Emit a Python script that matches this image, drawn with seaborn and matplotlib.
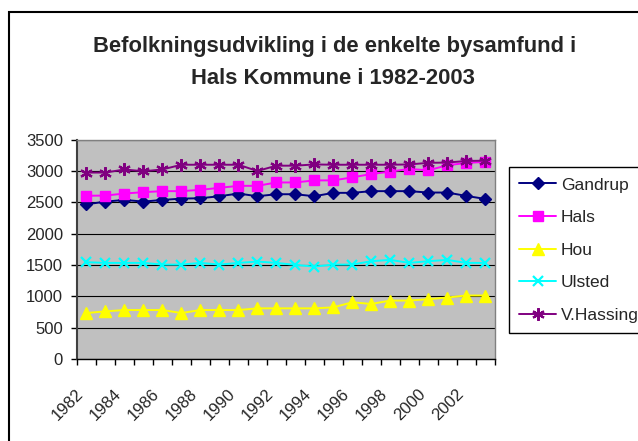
import matplotlib
matplotlib.use("Agg")
import matplotlib.pyplot as plt
import matplotlib.patches as mpatches
import matplotlib.ticker as mticker
import seaborn as sns
import pandas as pd

years = list(range(1982, 2004))
gandrup = [2468, 2511, 2538, 2511, 2538, 2559, 2565, 2597, 2640, 2597, 2629,
           2629, 2597, 2651, 2651, 2678, 2678, 2678, 2656, 2656, 2602, 2554]
hals = [2604, 2608, 2640, 2662, 2678, 2678, 2699, 2731, 2763, 2763, 2817,
        2817, 2850, 2850, 2898, 2952, 2990, 3033, 3011, 3091, 3129, 3145]
hou = [731, 758, 779, 779, 779, 731, 779, 779, 779, 806, 806,
       806, 806, 822, 903, 876, 930, 930, 952, 979, 1011, 1011]
ulsted = [1543, 1532, 1532, 1532, 1505, 1505, 1532, 1505, 1532, 1553, 1532,
          1500, 1473, 1505, 1505, 1559, 1580, 1532, 1559, 1580, 1532, 1532]
vhassing = [2975, 2975, 3025, 2995, 3025, 3100, 3100, 3100, 3100, 3000, 3085,
            3085, 3105, 3100, 3100, 3100, 3100, 3105, 3130, 3135, 3160, 3165]

series_names = ["Gandrup", "Hals", "Hou", "Ulsted", "V.Hassing"]
series_values = [gandrup, hals, hou, ulsted, vhassing]
colors = ["#000080", "#FF00FF", "#FFFF00", "#00FFFF", "#800080"]
markers = ["D", "s", "^", "x", (6, 2, 0)]
msizes = [6.5, 6.5, 8, 7, 9]
title_lines = ["Befolkningsudvikling i de enkelte bysamfund i",
               "Hals Kommune i 1982-2003"]
yticks = list(range(0, 3501, 500))

sns.set_style("white")
plt.rcParams["font.family"] = ["Liberation Sans", "DejaVu Sans"]

W, H = 638, 441
fig = plt.figure(figsize=(W / 100, H / 100), dpi=100)
fig.patch.set_facecolor("white")

# outer chart frame (right/bottom edges fall outside the image)
fig.patches.append(mpatches.Rectangle((9 / W, -0.2), 1.3, 1 - 12 / H + 0.2,
                                      transform=fig.transFigure, fill=False,
                                      edgecolor="black", linewidth=1.5))

ax = fig.add_axes([77 / W, 1 - 358.8 / H, (494.7 - 77) / W, (358.8 - 139.7) / H])
ax.set_facecolor("#C0C0C0")

for name, vals, c, m, ms in zip(series_names, series_values, colors, markers, msizes):
    df = pd.DataFrame({"year": years, "value": vals})
    mew = 1.6 if m in ("x",) or isinstance(m, tuple) else 1
    sns.lineplot(data=df, x="year", y="value", ax=ax, color=c, marker=m,
                 markersize=ms, markeredgecolor=c, markerfacecolor=c,
                 markeredgewidth=mew, linewidth=1.4, label=name)

ax.set_xlim(1981.5, 2003.5)
ax.set_ylim(0, 3500)
ax.set_yticks(yticks)
ax.set_xticks(years[::2])
ax.set_xticklabels([str(y) for y in years[::2]], rotation=45, ha="right", va="top")
ax.xaxis.set_minor_locator(mticker.FixedLocator([y + 0.5 for y in range(1981, 2004)]))
ax.tick_params(axis="x", which="major", length=0, pad=19.5, labelsize=12)
ax.tick_params(axis="x", which="minor", length=4, width=1, color="black", direction="out", bottom=True)
ax.tick_params(axis="y", which="major", length=4, width=1, color="black", direction="out", left=True,
               pad=6, labelsize=12)
ax.set_xlabel("")
ax.set_ylabel("")
ax.grid(axis="y", color="black", linewidth=0.8)
ax.grid(axis="x", visible=False)
ax.set_axisbelow(True)

for s in ["top", "right"]:
    ax.spines[s].set_color("#808080")
    ax.spines[s].set_linewidth(1)
ax.spines["left"].set_color("#404040")
ax.spines["left"].set_linewidth(1.5)
ax.spines["bottom"].set_color("black")
ax.spines["bottom"].set_linewidth(1)

# title
fig.text(335 / W, 1 - 52 / H, title_lines[0], ha="center", va="baseline",
         fontsize=15.8, fontweight="bold")
fig.text(333 / W, 1 - 84.5 / H, title_lines[1], ha="center", va="baseline",
         fontsize=15.8, fontweight="bold")

ax.get_legend().remove()
handles, labels = ax.get_legend_handles_labels()
leg = fig.legend(handles, labels, loc="upper left",
                 bbox_to_anchor=(509 / W, 1 - 167 / H), bbox_transform=fig.transFigure,
                 borderaxespad=0, fontsize=12.5, frameon=True, fancybox=False,
                 edgecolor="black", framealpha=1, borderpad=0.6,
                 labelspacing=1.0, handlelength=2.1, handletextpad=0.3)
leg.get_frame().set_linewidth(1)

fig.savefig("out.png", dpi=100)
